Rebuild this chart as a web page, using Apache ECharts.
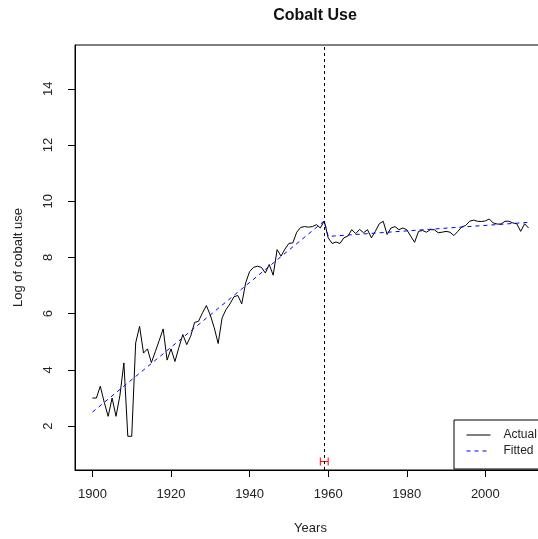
<!DOCTYPE html>
<html><head><meta charset="utf-8">
<script src="https://cdn.jsdelivr.net/npm/echarts@6/dist/echarts.min.js"></script>
<style>html,body{margin:0;padding:0;background:#fff}#c{width:538px;height:539px}</style>
</head><body><div id="c"></div>
<script>
// ---- data ----
const firstYear = 1900;
const actual = [
  3.0,3.0,3.42,2.85,2.35,3.0,2.35,3.1,4.25,1.64,
  1.64,4.96,5.55,4.6,4.75,4.26,4.65,5.05,5.46,4.35,
  4.75,4.3,4.8,5.26,4.9,5.2,5.69,5.73,6.03,6.29,
  5.95,5.5,4.94,5.85,6.15,6.35,6.6,6.65,6.35,7.1,
  7.5,7.65,7.69,7.65,7.45,7.75,7.37,8.28,8.05,8.3,
  8.5,8.52,8.9,9.07,9.1,9.08,9.1,9.17,9.05,9.3,
  8.7,8.5,8.55,8.5,8.7,8.76,8.99,8.85,9.0,8.88,
  8.99,8.7,8.93,9.2,9.29,8.82,9.05,9.1,8.99,9.05,
  8.99,8.76,8.54,8.93,8.96,8.9,8.99,8.99,8.88,8.9,
  8.93,8.9,8.78,8.93,9.09,9.14,9.29,9.33,9.29,9.28,
  9.3,9.37,9.23,9.19,9.19,9.29,9.29,9.23,9.2,8.93,
  9.2,9.05
];
const fitYears  = [1900, 1959, 1960, 2011];
const fitValues = [2.5, 9.3, 8.75, 9.25];
const breakYear = 1959;
const ciYears = [1958, 1960];
const ciLevel = 0.74;
const xTicks = [1900, 1920, 1940, 1960, 1980, 2000];
const yTicks = [2, 4, 6, 8, 10, 12, 14];

const years = actual.map((_, i) => firstYear + i);
const font = 'Arial, "Liberation Sans", sans-serif';
const txt = '#222';

const chart = echarts.init(document.getElementById('c'), null, {renderer: 'canvas'});
chart.setOption({
  animation: false,
  backgroundColor: '#fff',
  title: {
    text: 'Cobalt Use', left: 310, top: 3, textAlign: 'center',
    textStyle: {fontFamily: font, fontSize: 16, fontWeight: 'bold', color: '#111'}
  },
  grid: {left: 75, right: -8, top: 45, bottom: 69, outerBoundsMode: 'none', containLabel: false,
    show: true, borderColor: '#000', borderWidth: 1, backgroundColor: 'transparent'},
  legend: {
    data: ['Actual', 'Fitted'], orient: 'vertical', left: 454, top: 420,
    padding: [9, 4, 12, 12], itemGap: 4, itemWidth: 24, itemHeight: 14,
    borderColor: '#000', borderWidth: 1, borderRadius: 0, backgroundColor: '#fff',
    itemStyle: {opacity: 0},
    lineStyle: {width: 1},
    textStyle: {fontFamily: font, fontSize: 12, color: txt, padding: [0, 0, 0, 8]}
  },
  xAxis: {
    type: 'value', min: 1895.56, max: 2015.44,
    name: 'Years', nameLocation: 'middle', nameGap: 52,
    nameTextStyle: {fontFamily: font, fontSize: 13, color: txt},
    axisLine: {show: true, lineStyle: {color: '#000', width: 1}},
    axisTick: {show: true, customValues: xTicks, length: 7, lineStyle: {color: '#000'}},
    axisLabel: {customValues: xTicks, fontFamily: font, fontSize: 13, color: txt, margin: 18,
      formatter: v => String(v)},
    splitLine: {show: false}
  },
  yAxis: {
    type: 'value', min: 0.44, max: 15.56,
    name: 'Log of cobalt use', nameLocation: 'middle', nameGap: 50, nameRotate: 90,
    nameTextStyle: {fontFamily: font, fontSize: 13, color: txt},
    axisLine: {show: true, lineStyle: {color: '#000', width: 1}},
    axisTick: {show: true, customValues: yTicks, length: 7, lineStyle: {color: '#000'}},
    axisLabel: {customValues: yTicks, rotate: 90, fontFamily: font, fontSize: 13, color: txt, margin: 20,
      formatter: v => String(v)},
    splitLine: {show: false}
  },
  series: [
    {
      name: 'Actual', type: 'line', symbol: 'none',
      data: years.map((y, i) => [y, actual[i]]),
      lineStyle: {color: '#000', width: 1}, itemStyle: {color: '#000'},
      markLine: {
        silent: true, symbol: 'none', label: {show: false},
        lineStyle: {color: '#000', width: 1, type: [3, 3]},
        data: [{xAxis: breakYear}]
      }
    },
    {
      name: 'Fitted', type: 'line', symbol: 'none',
      data: fitYears.map((y, i) => [y, fitValues[i]]),
      lineStyle: {color: '#0000ff', width: 1, type: [4, 4]}, itemStyle: {color: '#0000ff'}
    },
    {
      name: 'CI', type: 'line', symbol: 'rect', symbolSize: [1, 8],
      data: ciYears.map(y => [y, ciLevel]),
      lineStyle: {color: '#ff0000', width: 1}, itemStyle: {color: '#ff0000'}
    }
  ]
});
</script></body></html>
